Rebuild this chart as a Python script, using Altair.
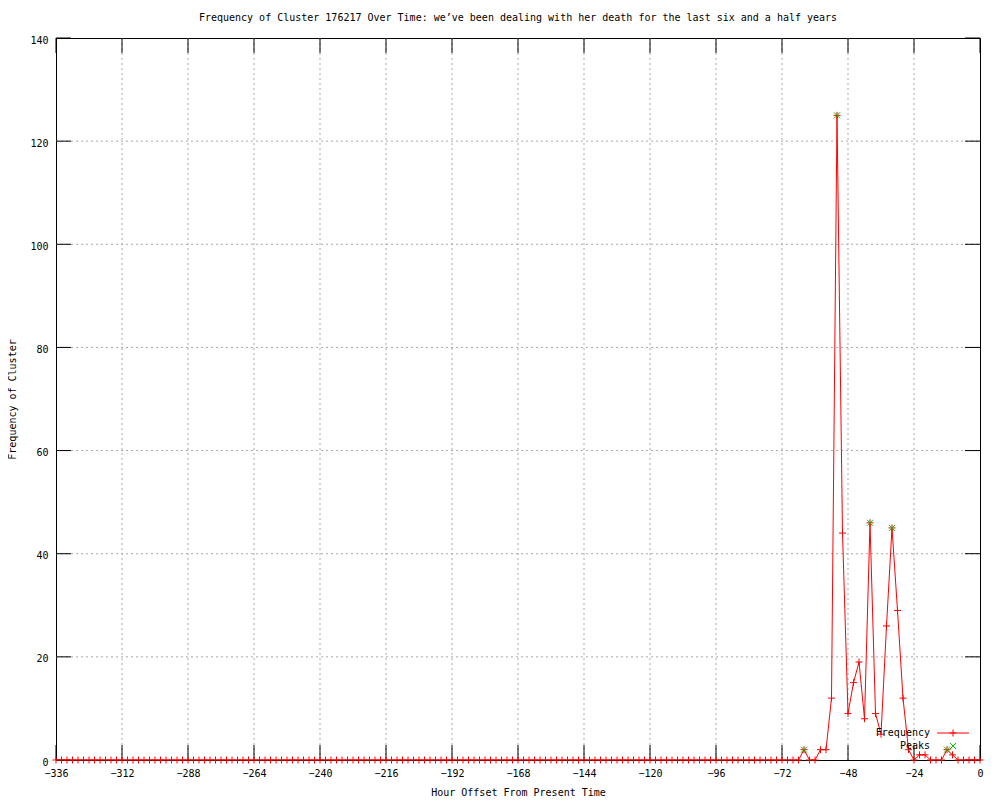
import altair as alt
import pandas as pd

# Hour offsets (every 2 hours) and cluster frequency
hours = list(range(-336, 1, 2))
freq = [
    0, 0, 0, 0, 0, 0, 0, 0, 0, 0, 0, 0, 0, 0, 0, 0, 0,
    0, 0, 0, 0, 0, 0, 0, 0, 0, 0, 0, 0, 0, 0, 0, 0, 0,
    0, 0, 0, 0, 0, 0, 0, 0, 0, 0, 0, 0, 0, 0, 0, 0, 0,
    0, 0, 0, 0, 0, 0, 0, 0, 0, 0, 0, 0, 0, 0, 0, 0, 0,
    0, 0, 0, 0, 0, 0, 0, 0, 0, 0, 0, 0, 0, 0, 0, 0, 0,
    0, 0, 0, 0, 0, 0, 0, 0, 0, 0, 0, 0, 0, 0, 0, 0, 0,
    0, 0, 0, 0, 0, 0, 0, 0, 0, 0, 0, 0, 0, 0, 0, 0, 0,
    0, 0, 0, 0, 0, 0, 0, 0, 0, 0, 0, 0, 0, 0, 0, 0, 0,
    2, 0, 0, 2, 2, 12, 125, 44, 9, 15, 19, 8, 46, 9, 5, 26, 45,
    29, 12, 2, 0, 1, 1, 0, 0, 0, 2, 1, 0, 0, 0, 0, 0,
]
peak_hours = [-64, -52, -40, -32, -12]
peak_vals = [2, 125, 46, 45, 2]

x_ticks = list(range(-336, 1, 24))
y_ticks = [0, 20, 40, 60, 80, 100, 120, 140]
legend_labels = ["Frequency", "Peaks"]

W, H = 924, 722
FONT = "DejaVu Sans Mono"
RED = "#ff0000"
GREEN = "#00c000"
GRID = "#a8a8a8"
PLUS = "M-1,0L1,0M0,-1L0,1"
XSHAPE = "M-1,-1L1,1M-1,1L1,-1"

df = pd.DataFrame({"hour": hours, "freq": freq})
peaks = pd.DataFrame({"hour": peak_hours, "freq": peak_vals})
xt = pd.DataFrame({"t": x_ticks})
yt = pd.DataFrame({"t": y_ticks})

xscale = alt.Scale(domain=[-336, 0], nice=False, zero=False)
yscale = alt.Scale(domain=[0, 140], nice=False)

axis_common = dict(grid=False, ticks=False, domain=False, labelFlush=False,
                   labelOverlap=False, labelFont=FONT, labelFontSize=10,
                   labelColor="black", titleFont=FONT, titleFontSize=10,
                   titleFontWeight="normal", titleColor="black")

base = alt.Chart(df)

line = base.mark_line(color=RED, strokeWidth=1, clip=True).encode(
    x=alt.X("hour:Q", scale=xscale,
            axis=alt.Axis(values=x_ticks, title="Hour Offset From Present Time",
                          labelPadding=8, titlePadding=9, **axis_common)),
    y=alt.Y("freq:Q", scale=yscale,
            axis=alt.Axis(values=y_ticks, title="Frequency of Cluster",
                          labelPadding=8, titlePadding=12, labelOffset=2,
                          **axis_common)),
)
pts = base.mark_point(shape=PLUS, size=49, color=RED, filled=False,
                      strokeWidth=1, opacity=1).encode(x="hour:Q", y="freq:Q")
pk = alt.Chart(peaks).mark_point(shape=XSHAPE, size=36, color=GREEN, filled=False,
                                 strokeWidth=1, opacity=1).encode(x="hour:Q", y="freq:Q")

# interior dashed grid lines
gx = alt.Chart(xt).transform_filter("datum.t > -336 && datum.t < 0").mark_rule(
    color=GRID, strokeWidth=1, strokeDash=[2, 3]).encode(
    x="t:Q", y=alt.value(0), y2=alt.value(H))
gy = alt.Chart(yt).transform_filter("datum.t > 0 && datum.t < 140").mark_rule(
    color=GRID, strokeWidth=1, strokeDash=[2, 3]).encode(
    y="t:Q", x=alt.value(0), x2=alt.value(W))

# inward tick marks on all four sides
tb = alt.Chart(xt).mark_rule(color="black", strokeWidth=1).encode(
    x="t:Q", y=alt.value(H), y2=alt.value(H - 15))
tt = alt.Chart(xt).mark_rule(color="black", strokeWidth=1).encode(
    x="t:Q", y=alt.value(0), y2=alt.value(15))
tl = alt.Chart(yt).mark_rule(color="black", strokeWidth=1).encode(
    y="t:Q", x=alt.value(0), x2=alt.value(15))
tr = alt.Chart(yt).mark_rule(color="black", strokeWidth=1).encode(
    y="t:Q", x=alt.value(W - 15), x2=alt.value(W))

leg1 = pd.DataFrame({"label": [legend_labels[0]]})
leg2 = pd.DataFrame({"label": [legend_labels[1]]})
lt1 = alt.Chart(leg1).mark_text(align="right", baseline="middle", font=FONT,
                                fontSize=10, color="black").encode(
    text="label:N", x=alt.value(874), y=alt.value(695))
lt2 = alt.Chart(leg2).mark_text(align="right", baseline="middle", font=FONT,
                                fontSize=10, color="black").encode(
    text="label:N", x=alt.value(874), y=alt.value(708))
ll = alt.Chart(leg1).mark_rule(color=RED, strokeWidth=1).encode(
    x=alt.value(881), x2=alt.value(913), y=alt.value(695))
lp = alt.Chart(leg1).mark_point(shape=PLUS, size=49, color=RED, filled=False,
                                strokeWidth=1, opacity=1).encode(
    x=alt.value(897), y=alt.value(695))
lx = alt.Chart(leg2).mark_point(shape=XSHAPE, size=36, color=GREEN, filled=False,
                                strokeWidth=1, opacity=1).encode(
    x=alt.value(897), y=alt.value(708))

chart = alt.layer(gx, gy, tb, tt, tl, tr, line, pts, pk,
                  lt1, lt2, ll, lp, lx).properties(
    width=W, height=H,
    background="white",
    title=alt.TitleParams(
        "Frequency of Cluster 176217 Over Time: we\u2019ve been dealing with her death for the last six and a half years",
        font=FONT, fontSize=10, fontWeight="normal", color="black", offset=12),
    autosize=alt.AutoSizeParams(type="none"),
    padding={"left": 48, "top": 30, "right": 12, "bottom": 40},
).configure_view(stroke="black", strokeWidth=1)

chart.save("out.html", embed_options={"renderer": "svg", "actions": False})
